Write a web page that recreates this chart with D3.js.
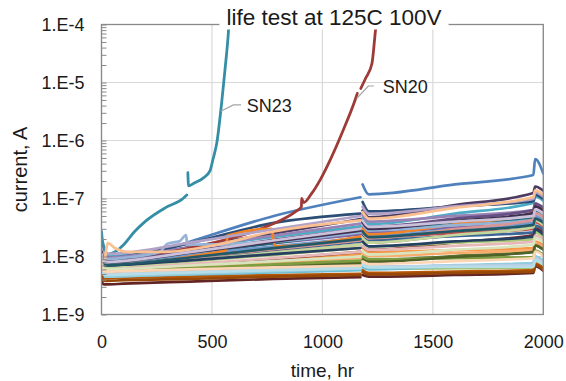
<!DOCTYPE html>
<html>
<head>
<meta charset="utf-8">
<script src="https://cdn.jsdelivr.net/npm/d3@7"></script>
<style>
  html, body { margin: 0; padding: 0; background: #fff; }
  svg { display: block; font-family: "Liberation Sans", Arial, sans-serif; }
</style>
</head>
<body>
<svg id="chart" width="566" height="381"></svg>
<script>
// time axis (hr) shared by most devices; 1177 is the test interruption (no reading)
const hours = [0, 5, 20, 100, 400, 780, 1172, 1177, 1182, 1210, 1600, 1955, 1963, 2000];

// leakage current per device, in nA
const SN1  = [15, 8, 7.5, 8, 18, 50, 105, null, 175, 118, 175, 254, 480, 270];
const SN2  = [23, 10, 8, 8.3, 10.5, 14.5, 20, null, 26, 21.6, 25.5, 30, 39, 33];
const SN3  = [12, 6, 5, 5.1, 5.3, 5.7, 6, null, 6.8, 6.2, 6.3, 6.4, 8.3, 7];
const SN4  = [16, 10, 9, 9.3, 12, 17, 24, null, 33, 26, 31.5, 38, 49, 42];
const SN5  = [18, 11, 10, 10.5, 14.3, 21.7, 33, null, 46, 36, 55, 84, 109, 92];
const SN6  = [9, 6.5, 6, 6.2, 7.2, 8.9, 11, null, 14, 11.9, 12.9, 14, 18, 15.4];
const SN7  = [20, 11, 9.5, 10, 17, 38, 55, null, 87, 60, 73, 90, 117, 99];
const SN8  = [11, 6, 5.5, 5.6, 6.9, 9.1, 12, null, 15, 13, 17.5, 23.5, 30.5, 26];
const SN9  = [8, 5.4, 5, 5.1, 5.75, 6.8, 8, null, 9.6, 8.6, 10.2, 12, 15.6, 13.2];
const SN10 = [17, 10, 9, 9.4, 14.5, 25, 44, null, 62, 47.5, 77, 124, 161, 136];
const SN11 = [14, 8.5, 7.5, 7.8, 11, 17, 27, null, 38, 29, 36.5, 46, 60, 51];
const SN12 = [7, 4.6, 4.2, 4.3, 4.5, 4.8, 5, null, 5.8, 5.2, 5.5, 5.8, 7.5, 6.4];
const SN13 = [13, 9, 8, 8.3, 10.7, 15, 21, null, 29, 22.7, 29.4, 38, 49, 42];
const SN14 = [19, 8, 7, 7.2, 9, 12, 16, null, 21, 17.3, 23.5, 32, 42, 35];
const SN15 = [10, 7, 6.5, 6.7, 8.2, 10.7, 14, null, 18, 15, 17.4, 20, 26, 22];
const SN16 = [15, 11, 9.5, 10, 14.3, 23, 37, null, 52, 40, 50, 63, 82, 69];
const SN17 = [6, 4.8, 4.5, 4.6, 4.9, 5.3, 5.8, null, 6.6, 6, 6.8, 7.7, 10, 8.5];
const SN18 = [10, 6.5, 6, 6.2, 6.9, 8, 9.5, null, 11.4, 10.2, 11.5, 13, 17, 14.3];
const SN19 = [12, 8, 7, 7.3, 9.3, 13, 18, null, 24, 19.4, 22.5, 26, 34, 29];
const SN21 = [9, 6, 5.5, 5.6, 6.3, 7.3, 8.5, null, 10, 9, 9.4, 9.8, 12.7, 10.8];
const SN22 = [14, 9.5, 8.5, 8.8, 12.4, 19.3, 30, null, 42, 32.4, 45, 63, 82, 69];
const SN26 = [11, 7.5, 7, 7.3, 9.4, 13.4, 19, null, 26, 20.5, 29.7, 43, 56, 47];
const SN27 = [9, 7, 6.5, 6.7, 8.5, 11.7, 16, null, 21, 17.3, 23.5, 32, 42, 35];
const SN28 = [13, 12, 11, 11.5, 17.3, 29.5, 50, null, 72, 54, 73, 98, 127, 108];
const SN29 = [7, 4.8, 4.5, 4.6, 5, 5.6, 6.2, null, 7.2, 6.5, 7.1, 7.7, 10, 8.5];
const SN31 = [10, 7.5, 7, 7.2, 8.6, 11, 14, null, 18, 15, 18.2, 22, 29, 24];
const SN32 = [5, 3.4, 3.3, 3.4, 3.7, 4.1, 4.4, null, 4.8, 4.5, 4.8, 5.2, 6.8, 5.7];
const SN33 = [7, 5.3, 5, 5.1, 5.6, 6.5, 7.5, null, 8.8, 8, 9.8, 12, 15.6, 13.2];
const SN34 = [12, 9, 8, 8.3, 11.6, 18, 28, null, 39, 30, 41, 56, 73, 62];
const SN35 = [9, 7.6, 7, 7.3, 9.6, 13.9, 20, null, 27, 21.6, 27.5, 35, 45, 38.5];
const SN36 = [6, 4, 3.8, 3.9, 4.1, 4.5, 4.8, null, 5.4, 4.9, 5.2, 5.5, 7.2, 6];
const SN37 = [8, 5.3, 5, 5.1, 5.5, 6, 6.5, null, 7.4, 6.7, 6.9, 7.1, 9.2, 7.8];
const SN38 = [8, 6.4, 6, 6.2, 7.4, 9.4, 12, null, 15, 13, 15.3, 18, 23, 20];
const SN39 = [9, 6.4, 6, 6.1, 7, 8.3, 10, null, 12.5, 10.8, 13.1, 16, 21, 17.6];
const SN40 = [11, 8.8, 8, 8.4, 11.9, 18.9, 30, null, 42, 32.4, 40, 50, 65, 55];
const SN41 = [7, 5, 4.8, 4.9, 5.3, 5.8, 6.3, null, 7.2, 6.5, 6.6, 6.6, 8.6, 7.3];
const SN42 = [8, 5.8, 5.5, 5.6, 6, 6.5, 7, null, 8.2, 7.4, 8.3, 9.4, 12.2, 10.3];

// devices read on their own time points
const SN20Hours = [0, 5, 20, 100, 400, 700, 780, 880, 905, 906, 915, 950, 990, 1035, 1094, 1148, 1158, 1165, 1174, 1195, 1224, 1239, 1243, 1246];
const SN20 = [20, 9, 8.5, 9, 14, 28, 37, 60, 72, 100, 85, 120, 210, 460, 1500, 5000, 6500, null, 7900, 11700, 21000, 71000, 100000, 130000];
const SN23Hours = [0, 5, 30, 60, 100, 150, 197, 288, 369, 386, 389, 391, 394, 420, 460, 491, 505, 522, 544, 559, 574, 578];
const SN23 = [27, 18, 11, 12, 16, 27, 40, 69, 100, 115, null, 280, 165, 185, 225, 300, 480, 910, 4500, 16500, 70000, 120000];
const SN24Hours = [0, 5, 20, 100, 400, 565, 570, 770, 780, 790, 1172, 1177, 1182, 1210, 1600, 1955, 1963, 2000];
const SN24 = [10, 6.5, 6, 6.5, 10, 13, 23, 30, 18, 15, 22, null, 30, 24, 36, 56, 73, 62];
const SN25Hours = [0, 5, 20, 100, 265, 297, 355, 383, 388, 780, 1172, 1177, 1182, 1210, 1600, 1955, 1963, 2000];
const SN25 = [14, 10, 9, 9.5, 12, 16.5, 18.5, 23.5, 16, 18, 26, null, 36, 28, 34.7, 43, 56, 47];
const SN30Hours = [0, 7, 29, 60, 120, 290, 515, 780, 1172, 1177, 1182, 1210, 1600, 1955, 1963, 2000];
const SN30 = [8, 6.6, 17, 14, 12, 12, 15.8, 27, 42, null, 58, 45, 69, 106, 138, 117];

// Excel 2007 series colour cycle
const palette = [
  "#4F81BD", "#C0504D", "#9BBB59", "#8064A2", "#4BACC6", "#F79646",
  "#2C4D75", "#772C2A", "#5F7530", "#4D3B62", "#276A7C", "#B65708",
  "#729ACA", "#CD7371", "#AFC97A", "#9983B5", "#6FBDD1", "#F9AB6B",
  "#3A6595", "#9E3B38", "#7E9C40", "#664F82", "#358EA6", "#F38425",
  "#95B3D7", "#D99694", "#C3D69B", "#B3A2C7", "#93CDDD", "#FAC090",
  "#254061", "#632523", "#4F6228", "#403152", "#215968", "#984807",
  "#B9CDE5", "#E6B9B8", "#D7E4BD", "#CCC1DA", "#B7DEE8", "#FCD5B5"
];

const xTicks = [0, 500, 1000, 1500, 2000];
const yTicks = [1, 10, 100, 1000, 10000, 100000];   // nA
const yTickLabels = ["1.E-9", "1.E-8", "1.E-7", "1.E-6", "1.E-5", "1.E-4"];

// label callouts: [text, label anchor, leader points] in (hr, nA)
const callouts = [
  ["SN23", [658, 4000], [[632, 4100], [597, 4100], [540, 3200]]],
  ["SN20", [1273, 8400], [[1233, 8700], [1208, 8700], [1155, 5300]]]
];

const series = [
  [1, hours, SN1], [2, hours, SN2], [3, hours, SN3], [4, hours, SN4], [5, hours, SN5],
  [6, hours, SN6], [7, hours, SN7], [8, hours, SN8], [9, hours, SN9], [10, hours, SN10],
  [11, hours, SN11], [12, hours, SN12], [13, hours, SN13], [14, hours, SN14], [15, hours, SN15],
  [16, hours, SN16], [17, hours, SN17], [18, hours, SN18], [19, hours, SN19], [20, SN20Hours, SN20],
  [21, hours, SN21], [22, hours, SN22], [23, SN23Hours, SN23], [24, SN24Hours, SN24], [25, SN25Hours, SN25],
  [26, hours, SN26], [27, hours, SN27], [28, hours, SN28], [29, hours, SN29], [30, SN30Hours, SN30],
  [31, hours, SN31], [32, hours, SN32], [33, hours, SN33], [34, hours, SN34], [35, hours, SN35],
  [36, hours, SN36], [37, hours, SN37], [38, hours, SN38], [39, hours, SN39], [40, hours, SN40],
  [41, hours, SN41], [42, hours, SN42]
];

const config = {
  plot: { left: 101.5, right: 543.3, top: 24.5, bottom: 314.5 },
  gridColor: "#D9D9D9",
  axisColor: "#898989",
  lineWidth: 2.7
};

const svg = d3.select("#chart");
const p = config.plot;

const x = d3.scaleLinear().domain([0, 2000]).range([p.left, p.right]);
const y = d3.scaleLog().domain([1, 100000]).range([p.bottom, p.top]);

// gridlines
svg.append("g").selectAll("line").data(yTicks).join("line")
  .attr("x1", p.left).attr("x2", p.right)
  .attr("y1", d => y(d)).attr("y2", d => y(d))
  .attr("stroke", config.gridColor).attr("stroke-width", 1.2);
svg.append("g").selectAll("line").data(xTicks).join("line")
  .attr("x1", d => x(d)).attr("x2", d => x(d))
  .attr("y1", p.top).attr("y2", p.bottom)
  .attr("stroke", config.gridColor).attr("stroke-width", 1.2);

// data lines
svg.append("clipPath").attr("id", "plotClip").append("rect")
  .attr("x", p.left).attr("y", p.top)
  .attr("width", p.right - p.left).attr("height", p.bottom - p.top);

const line = d3.line()
  .defined(d => d[1] != null)
  .x(d => x(d[0]))
  .y(d => y(d[1]))
  .curve(d3.curveMonotoneX);

const plotArea = svg.append("g").attr("clip-path", "url(#plotClip)");
plotArea.selectAll("path").data(series).join("path")
  .attr("fill", "none")
  .attr("stroke", d => palette[(d[0] - 1) % palette.length])
  .attr("stroke-width", d => (d[0] === 20 || d[0] === 23) ? 2.8 : config.lineWidth)
  .attr("stroke-linejoin", "round")
  .attr("stroke-linecap", "round")
  .attr("d", d => line(d[1].map((t, i) => [t, d[2][i]])));

// plot frame
svg.append("rect")
  .attr("x", p.left).attr("y", p.top)
  .attr("width", p.right - p.left).attr("height", p.bottom - p.top)
  .attr("fill", "none").attr("stroke", config.axisColor).attr("stroke-width", 1.3);

// minor ticks on the log axis (inside)
const yMinor = svg.append("g")
  .attr("transform", `translate(${p.left},0)`)
  .call(d3.axisRight(y).ticks(10).tickSize(5).tickFormat(""));
yMinor.select(".domain").remove();
yMinor.selectAll("line").attr("stroke", config.axisColor).attr("stroke-width", 1);

// tick labels
const yAxis = svg.append("g")
  .attr("transform", `translate(${p.left - 14},0)`)
  .call(d3.axisLeft(y).tickValues(yTicks).tickSize(0)
    .tickFormat((d, i) => yTickLabels[i]));
yAxis.select(".domain").remove();
yAxis.selectAll("text").attr("font-size", 18).attr("fill", "#1a1a1a")
  .attr("font-family", "Liberation Sans, Arial, sans-serif");

const xAxis = svg.append("g")
  .attr("transform", `translate(0,${p.bottom + 18})`)
  .call(d3.axisBottom(x).tickValues(xTicks).tickSize(0).tickFormat(d3.format("d")));
xAxis.select(".domain").remove();
xAxis.selectAll("text").attr("font-size", 18).attr("fill", "#1a1a1a")
  .attr("font-family", "Liberation Sans, Arial, sans-serif");

// axis titles
svg.append("text")
  .attr("x", (p.left + p.right) / 2).attr("y", 377)
  .attr("text-anchor", "middle").attr("font-size", 19).attr("fill", "#1a1a1a")
  .text("time, hr");
svg.append("text")
  .attr("transform", `translate(27,${(p.top + p.bottom) / 2}) rotate(-90)`)
  .attr("text-anchor", "middle").attr("font-size", 20).attr("fill", "#1a1a1a")
  .text("current, A");

// chart title over a white box that breaks the frame
const titleBox = svg.append("rect").attr("fill", "#fff");
const title = svg.append("text")
  .attr("x", 334).attr("y", 24.5)
  .attr("text-anchor", "middle").attr("font-size", 22.5).attr("fill", "#1a1a1a")
  .text("life test at 125C 100V");
const tb = title.node().getBBox();
titleBox
  .attr("x", tb.x - 7).attr("y", tb.y)
  .attr("width", tb.width + 14).attr("height", tb.height);

// callouts
callouts.forEach(([label, at, leader]) => {
  svg.append("path")
    .attr("d", d3.line().x(d => x(d[0])).y(d => y(d[1]))(leader))
    .attr("fill", "none").attr("stroke", "#A6A6A6").attr("stroke-width", 1.2);
  svg.append("text")
    .attr("x", x(at[0])).attr("y", y(at[1]))
    .attr("dominant-baseline", "central")
    .attr("font-size", 18).attr("fill", "#1a1a1a")
    .text(label);
});
</script>
</body>
</html>
